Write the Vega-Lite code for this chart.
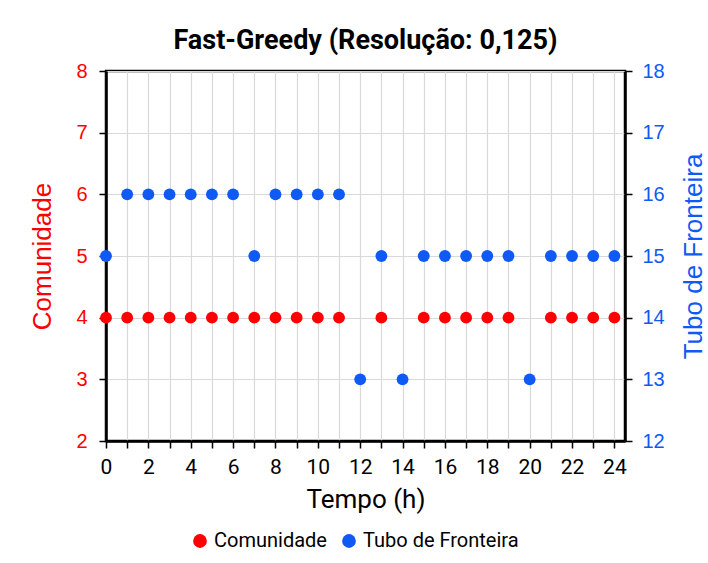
{
  "$schema": "https://vega.github.io/schema/vega-lite/v6.json",
  "width": 519,
  "height": 370,
  "autosize": {"type": "none"},
  "padding": {"left": 106, "top": 71, "right": 83, "bottom": 122},
  "background": "white",
  "title": {
    "text": "Fast-Greedy (Resolução: 0,125)",
    "font": "Roboto",
    "fontSize": 27,
    "fontWeight": "bold",
    "color": "black",
    "anchor": "middle",
    "offset": 6
  },
  "config": {
    "view": {"stroke": "black", "strokeWidth": 2.5},
    "axis": {
      "gridColor": "#d9d9d9",
      "gridWidth": 1.2,
      "domainColor": "black",
      "domainWidth": 2.5,
      "tickColor": "black",
      "tickWidth": 1.5,
      "tickSize": 7,
      "labelFontSize": 20,
      "titleFontSize": 26,
      "titleFontWeight": "normal",
      "labelFont": "Liberation Sans",
      "titleFont": "Liberation Sans"
    }
  },
  "data": {
    "values": [
      {"hora": 0, "serie": "Comunidade", "valor": 4},
      {"hora": 1, "serie": "Comunidade", "valor": 4},
      {"hora": 2, "serie": "Comunidade", "valor": 4},
      {"hora": 3, "serie": "Comunidade", "valor": 4},
      {"hora": 4, "serie": "Comunidade", "valor": 4},
      {"hora": 5, "serie": "Comunidade", "valor": 4},
      {"hora": 6, "serie": "Comunidade", "valor": 4},
      {"hora": 7, "serie": "Comunidade", "valor": 4},
      {"hora": 8, "serie": "Comunidade", "valor": 4},
      {"hora": 9, "serie": "Comunidade", "valor": 4},
      {"hora": 10, "serie": "Comunidade", "valor": 4},
      {"hora": 11, "serie": "Comunidade", "valor": 4},
      {"hora": 13, "serie": "Comunidade", "valor": 4},
      {"hora": 15, "serie": "Comunidade", "valor": 4},
      {"hora": 16, "serie": "Comunidade", "valor": 4},
      {"hora": 17, "serie": "Comunidade", "valor": 4},
      {"hora": 18, "serie": "Comunidade", "valor": 4},
      {"hora": 19, "serie": "Comunidade", "valor": 4},
      {"hora": 21, "serie": "Comunidade", "valor": 4},
      {"hora": 22, "serie": "Comunidade", "valor": 4},
      {"hora": 23, "serie": "Comunidade", "valor": 4},
      {"hora": 24, "serie": "Comunidade", "valor": 4},
      {"hora": 0, "serie": "Tubo de Fronteira", "valor": 15},
      {"hora": 1, "serie": "Tubo de Fronteira", "valor": 16},
      {"hora": 2, "serie": "Tubo de Fronteira", "valor": 16},
      {"hora": 3, "serie": "Tubo de Fronteira", "valor": 16},
      {"hora": 4, "serie": "Tubo de Fronteira", "valor": 16},
      {"hora": 5, "serie": "Tubo de Fronteira", "valor": 16},
      {"hora": 6, "serie": "Tubo de Fronteira", "valor": 16},
      {"hora": 7, "serie": "Tubo de Fronteira", "valor": 15},
      {"hora": 8, "serie": "Tubo de Fronteira", "valor": 16},
      {"hora": 9, "serie": "Tubo de Fronteira", "valor": 16},
      {"hora": 10, "serie": "Tubo de Fronteira", "valor": 16},
      {"hora": 11, "serie": "Tubo de Fronteira", "valor": 16},
      {"hora": 12, "serie": "Tubo de Fronteira", "valor": 13},
      {"hora": 13, "serie": "Tubo de Fronteira", "valor": 15},
      {"hora": 14, "serie": "Tubo de Fronteira", "valor": 13},
      {"hora": 15, "serie": "Tubo de Fronteira", "valor": 15},
      {"hora": 16, "serie": "Tubo de Fronteira", "valor": 15},
      {"hora": 17, "serie": "Tubo de Fronteira", "valor": 15},
      {"hora": 18, "serie": "Tubo de Fronteira", "valor": 15},
      {"hora": 19, "serie": "Tubo de Fronteira", "valor": 15},
      {"hora": 20, "serie": "Tubo de Fronteira", "valor": 13},
      {"hora": 21, "serie": "Tubo de Fronteira", "valor": 15},
      {"hora": 22, "serie": "Tubo de Fronteira", "valor": 15},
      {"hora": 23, "serie": "Tubo de Fronteira", "valor": 15},
      {"hora": 24, "serie": "Tubo de Fronteira", "valor": 15}
    ]
  },
  "encoding": {
    "x": {
      "field": "hora",
      "type": "quantitative",
      "scale": {"domain": [0, 24.5], "nice": false, "zero": false},
      "axis": {
        "title": "Tempo (h)",
        "values": [0,1,2,3,4,5,6,7,8,9,10,11,12,13,14,15,16,17,18,19,20,21,22,23,24],
        "labelExpr": "datum.value % 2 === 0 ? datum.label : ''",
        "labelFont": "Roboto",
        "titleFont": "Roboto",
        "labelFontSize": 21,
        "labelColor": "black",
        "titleColor": "black",
        "labelPadding": 8,
        "titlePadding": 9,
        "labelFlush": false
      }
    },
    "color": {
      "field": "serie",
      "type": "nominal",
      "scale": {"domain": ["Comunidade", "Tubo de Fronteira"], "range": ["#ff0000", "#0f5af5"]},
      "legend": {
        "title": null,
        "orient": "none",
        "legendX": 84,
        "legendY": 460,
        "direction": "horizontal",
        "symbolType": "circle",
        "symbolSize": 190,
        "symbolStrokeWidth": 0,
        "labelFont": "Roboto",
        "labelFontSize": 20,
        "labelColor": "black",
        "labelOffset": 4,
        "columnPadding": 12
      }
    }
  },
  "layer": [
    {
      "transform": [{"filter": "datum.serie === 'Comunidade'"}],
      "mark": {"type": "point", "filled": true, "size": 140, "opacity": 1, "shape": "circle"},
      "encoding": {
        "y": {
          "field": "valor",
          "type": "quantitative",
          "scale": {"domain": [2, 8], "nice": false, "zero": false},
          "axis": {
            "title": "Comunidade",
            "orient": "left",
            "values": [2,3,4,5,6,7,8],
            "labelColor": "#ff0000",
            "titleColor": "#ff0000",
            "labelPadding": 12,
            "titlePadding": 20
          }
        }
      }
    },
    {
      "transform": [{"filter": "datum.serie === 'Tubo de Fronteira'"}],
      "mark": {"type": "point", "filled": true, "size": 140, "opacity": 1, "shape": "circle"},
      "encoding": {
        "y": {
          "field": "valor",
          "type": "quantitative",
          "scale": {"domain": [12, 18], "nice": false, "zero": false},
          "axis": {
            "title": "Tubo de Fronteira",
            "orient": "right",
            "titleAngle": 270,
            "values": [12,13,14,15,16,17,18],
            "grid": false,
            "labelColor": "#0f5af5",
            "titleColor": "#0f5af5",
            "labelPadding": 10,
            "titlePadding": 42
          }
        }
      }
    }
  ],
  "resolve": {"scale": {"y": "independent"}}
}
